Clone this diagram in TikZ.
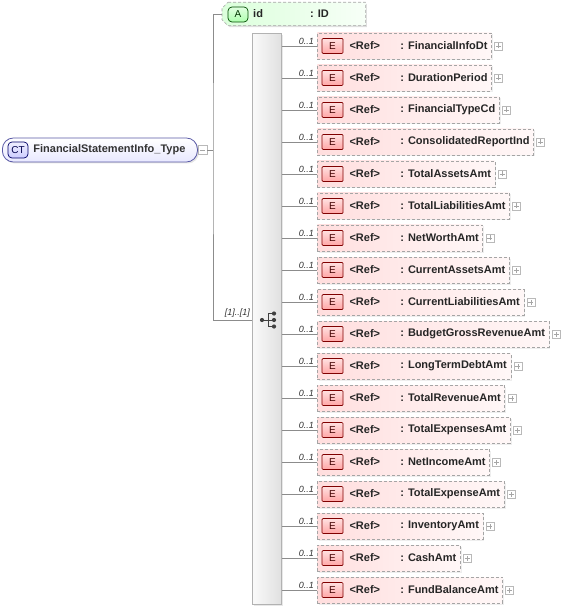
\documentclass[tikz,border=0pt]{standalone}
\usepackage{fontspec}
\setmainfont{Liberation Sans}
\usepackage{xcolor}
\usetikzlibrary{positioning,calc,shadows}

\definecolor{linegray}{RGB}{140,140,140}
\definecolor{boxgray}{RGB}{165,165,165}

\begin{document}
\begin{tikzpicture}[x=1pt, y=-1pt,
    conn/.style={draw=linegray, line width=0.6pt},
    ctbox/.style={rectangle, rounded corners=11pt,
                  draw=gray!70!blue, line width=0.8pt,
                  top color=white, bottom color=blue!9,
                  minimum width=195pt, minimum height=24pt,
                  text width=187pt, align=left, inner xsep=4pt,
                  anchor=west, text=black!80,
                  font=\fontsize{11}{13}\selectfont\bfseries,
                  drop shadow={shadow xshift=1.5pt, shadow yshift=-1.5pt, fill=black!20}},
    ctbadge/.style={rectangle, rounded corners=4pt,
                    draw=blue!40!black, line width=0.7pt,
                    top color=blue!6, bottom color=blue!20,
                    minimum width=20pt, minimum height=16pt, inner sep=0pt,
                    font=\fontsize{10}{12}\selectfont, text=blue!30!black},
    attrbox/.style={draw=boxgray, dash pattern=on 3pt off 2pt, line width=0.6pt,
                    left color=green!14, right color=green!3},
    abadge/.style={rectangle, rounded corners=4pt,
                   draw=green!30!black, line width=0.7pt,
                   top color=green!12, bottom color=green!32,
                   minimum width=20pt, minimum height=15pt, inner sep=0pt,
                   font=\fontsize{10}{12}\selectfont, text=green!20!black},
    seqbox/.style={rectangle, draw=gray!60, line width=0.6pt,
                   left color=gray!4, right color=gray!24,
                   minimum width=29pt, minimum height=571pt, anchor=north west,
                   drop shadow={shadow xshift=1.5pt, shadow yshift=-1.5pt, fill=black!18}},
    ebox/.style={rectangle, draw=boxgray, dash pattern=on 3pt off 2pt, line width=0.6pt,
                 left color=red!13, right color=red!3,
                 minimum height=26pt, inner xsep=4pt, anchor=west,
                 font=\fontsize{11}{13}\selectfont\bfseries, text=black!85,
                 drop shadow={shadow xshift=1.5pt, shadow yshift=-1.5pt, fill=black!13}},
    ebadge/.style={rectangle, rounded corners=1pt,
                   draw=red!50!black, line width=0.7pt,
                   top color=red!12, bottom color=red!35,
                   minimum width=21pt, minimum height=15pt, inner sep=0pt,
                   font=\fontsize{10}{12}\selectfont, text=red!25!black},
    reftext/.style={inner sep=0pt, font=\fontsize{11}{13}\selectfont\bfseries, text=black!85},
    mult/.style={inner sep=1pt, font=\fontsize{9}{10}\selectfont\itshape, text=black!80},
    plusbox/.style={rectangle, draw=gray!55, fill=white, line width=0.5pt,
                    minimum size=8pt, inner sep=0pt,
                    path picture={\draw[gray!70, line width=0.5pt]
                      ($(path picture bounding box.center)+(-2.5pt,0)$) -- ++(5pt,0)
                      ($(path picture bounding box.center)+(0,-2.5pt)$) -- ++(0,5pt);}},
    minusbox/.style={rectangle, draw=gray!55, fill=white, line width=0.5pt,
                     minimum size=9pt, inner sep=0pt,
                     path picture={\draw[gray!70, line width=0.5pt]
                       ($(path picture bounding box.center)+(-2.5pt,0)$) -- ++(5pt,0);}},
    dot/.style={circle, fill=black!75, inner sep=0pt, minimum size=4.2pt},
]
\useasboundingbox (0,0) rectangle (564,609);

%% ─── Complex type ───────────────────────────────────────────────────────────
\node[ctbox] (ct) at (2,150) {\hspace*{27pt}FinancialStatementInfo\_Type};
\node[ctbadge] (ctb) at (18,150) {CT};
\node[minusbox, right=0pt of ct] (ctm) {};
\coordinate (fork) at (213,150);

%% ─── Attribute ──────────────────────────────────────────────────────────────
\node[anchor=west, minimum width=143pt, minimum height=23pt, inner sep=0pt]
     (attr) at (222,14) {};
\fill[black!13] ($(attr.north west)+(7.5,1.5)$) -- ($(attr.north east)+(1.5,1.5)$)
     -- ($(attr.south east)+(1.5,1.5)$) -- ($(attr.south west)+(7.5,1.5)$)
     -- ($(attr.south west)+(1.5,-4.5)$) -- ($(attr.north west)+(1.5,7.5)$) -- cycle;
\draw[attrbox] ($(attr.north west)+(6,0)$) -- (attr.north east) -- (attr.south east)
     -- ($(attr.south west)+(6,0)$) -- ($(attr.south west)+(0,-6)$)
     -- ($(attr.north west)+(0,6)$) -- cycle;
\node[abadge] (ab) at (238,14.5) {A};
\node[reftext, anchor=west] (aname) at (253,14) {id};
\node[reftext, anchor=west] (atype) at (310,14) {: ID};

%% ─── Sequence ───────────────────────────────────────────────────────────────
\node[seqbox] (seq) at (252,33) {};
\coordinate (seqin) at (252,320);
\node[dot] (sq0) at (262,320) {};
\node[dot] (sq1) at (274,313.5) {};
\node[dot] (sq2) at (274,320) {};
\node[dot] (sq3) at (274,326.5) {};
\draw[black!75, line width=0.9pt] (sq0) -- (268.5,320);
\draw[black!75, line width=0.9pt] (sq1) -| (268.5,326.5) -- (sq3);
\draw[black!75, line width=0.9pt] (268.5,320) -- (sq2);
\node[mult, anchor=south east] (seqm) at (251,319) {[1]..[1]};

%% ─── Connectors ─────────────────────────────────────────────────────────────
\draw[conn] (ctm) -- (fork);
\draw[conn] (attr.west) -| (fork) |- (seqin);

%% ─── Elements ───────────────────────────────────────────────────────────────
\foreach \ename [count=\i from 0] in {FinancialInfoDt, DurationPeriod,
    FinancialTypeCd, ConsolidatedReportInd, TotalAssetsAmt,
    TotalLiabilitiesAmt, NetWorthAmt, CurrentAssetsAmt,
    CurrentLiabilitiesAmt, BudgetGrossRevenueAmt, LongTermDebtAmt,
    TotalRevenueAmt, TotalExpensesAmt, NetIncomeAmt, TotalExpenseAmt,
    InventoryAmt, CashAmt, FundBalanceAmt} {
  \pgfmathsetmacro{\ry}{46+32*\i}
  \node[ebox] (e\i) at (317,\ry) {\hspace*{79pt}: \ename};
  \node[ebadge] (eb\i) at ($(e\i.west)+(15.5,0)$) {E};
  \node[reftext, right=6pt of eb\i] (er\i) {<Ref>};
  \node[plusbox, right=2.5pt of e\i] (ep\i) {};
  \node[mult, above left=0pt and 2pt of e\i.west] (em\i) {0..1};
  \draw[conn] (e\i.west) -- (e\i.west -| seq.east);
}

\end{tikzpicture}
\end{document}
